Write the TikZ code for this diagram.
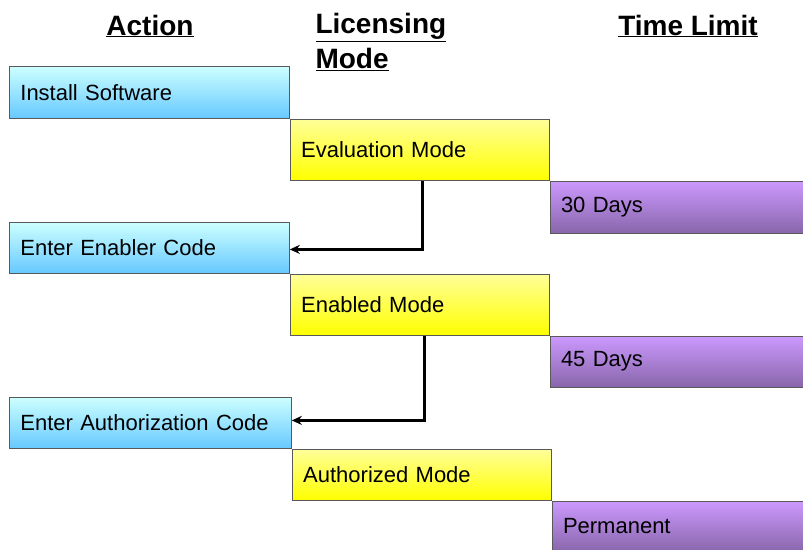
\documentclass[tikz,border=0pt]{standalone}
\usepackage{fontspec}
\setmainfont{Liberation Sans}
\usetikzlibrary{arrows.meta, positioning}

\definecolor{acttop}{HTML}{CCFFFF}
\definecolor{actbot}{HTML}{66C8FF}
\definecolor{modetop}{HTML}{FFFF99}
\definecolor{modebot}{HTML}{FFFF00}
\definecolor{timetop}{HTML}{CC99FF}
\definecolor{timebot}{HTML}{8866AA}

\begin{document}
\begin{tikzpicture}[
  x=1pt, y=-1pt,
  box/.style={draw=black!65, line width=0.8pt, rectangle, anchor=north west,
    inner xsep=11pt, inner ysep=0pt, align=left, font=\fontsize{22}{26}\selectfont},
  actbox/.style={box, top color=acttop, bottom color=actbot,
    minimum height=52pt, text width=258pt},
  modebox/.style={box, top color=modetop, bottom color=modebot,
    minimum height=61pt, text width=237pt},
  timebox/.style={box, top color=timetop, bottom color=timebot,
    minimum height=52pt, text width=238pt},
  head/.style={font=\fontsize{28}{35}\selectfont\bfseries, align=left},
  flow/.style={-{Stealth[length=10pt,width=9pt]}, line width=3pt, black}
]
\useasboundingbox (0,0) rectangle (803,549);
\clip (0,0) rectangle (803,549);

% column headings
\node[head] (hact)  at (150,26) {\underline{Action}};
\node[head, anchor=north west] (hmode) at (312,10) {\underline{Licensing}\\\underline{Mode}};
\node[head] (htime) at (688,26) {\underline{Time Limit}};

% install -> evaluation
\node[actbox]  (inst) at (9,66) {Install Software};
\node[modebox] (eval) at (inst.south east) {Evaluation Mode};
\node[timebox] (d30)  at (eval.south east) {30 Days};

% enabler -> enabled
\node[actbox, minimum height=51pt] (enab) at (9,222) {Enter Enabler Code};
\node[modebox] (enmode) at (enab.south east) {Enabled Mode};
\node[timebox, minimum height=51pt] (d45) at (enmode.south east) {45 Days};

% authorization -> authorized
\node[actbox, minimum height=51pt, text width=260pt] (auth) at (9,397) {Enter Authorization Code};
\node[modebox, minimum height=51pt] (aumode) at (auth.south east) {Authorized Mode};
\node[timebox, minimum height=51pt] (perm) at (aumode.south east) {Permanent};

% ends of the return flows
\coordinate (out1) at ([xshift=3pt]eval.south);
\coordinate (in1)  at ([yshift=-1.5pt]enab.east);
\coordinate (out2) at ([xshift=5pt]enmode.south);
\coordinate (in2)  at ([yshift=2.5pt]auth.east);

% flows back to the next action
\draw[flow] (out1) -- (out1 |- in1) -- (in1);
\draw[flow] (out2) -- (out2 |- in2) -- (in2);
\end{tikzpicture}
\end{document}
